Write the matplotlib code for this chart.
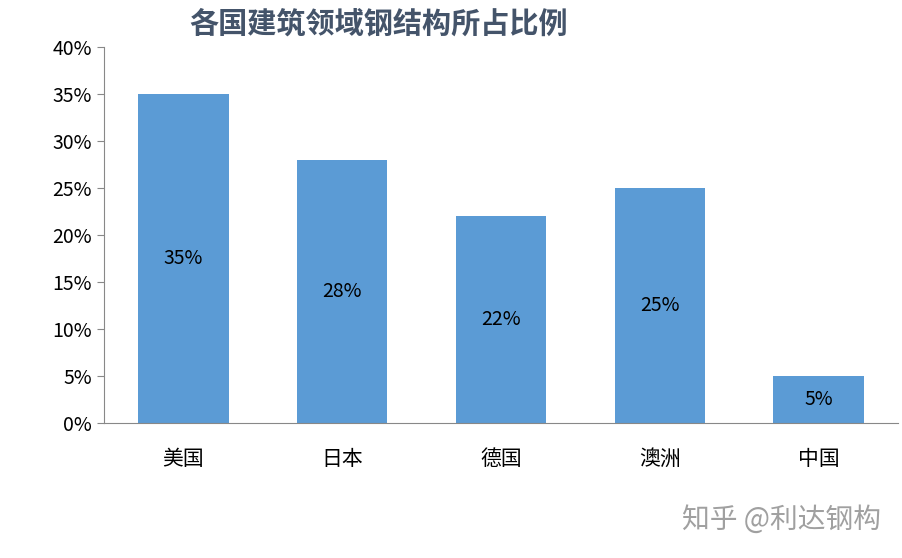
import matplotlib
matplotlib.use("Agg")
import matplotlib.pyplot as plt
from matplotlib.ticker import PercentFormatter

plt.rcParams['font.family'] = ['Noto Sans CJK SC', 'DejaVu Sans']

categories = ['美国', '日本', '德国', '澳洲', '中国']
values = [35, 28, 22, 25, 5]
labels = ['35%', '28%', '22%', '25%', '5%']

fig = plt.figure(figsize=(9.02, 5.58), dpi=100)
ax = fig.add_axes([0.1153, 0.2419, 0.8803, 0.6739])
x = range(len(categories))
bars = ax.bar(x, values, width=0.57, color='#5B9BD5')
for b, v, l in zip(bars, values, labels):
    ax.text(b.get_x() + b.get_width() / 2, v / 2, l, ha='center', va='center',
            fontsize=14, color='black')
ax.set_xlim(-0.5, 4.5)
ax.set_ylim(0, 40)
ax.set_yticks(range(0, 41, 5))
ax.yaxis.set_major_formatter(PercentFormatter(decimals=0))
ax.set_xticks(list(x))
ax.set_xticklabels(categories, fontsize=15)
ax.tick_params(axis='y', labelsize=14, length=5, color='#888888')
ax.tick_params(axis='x', length=0, pad=18)
for s in ['top', 'right']:
    ax.spines[s].set_visible(False)
ax.spines['left'].set_color('#888888')
ax.spines['bottom'].set_color('#888888')
fig.text(0.42, 0.958, '各国建筑领域钢结构所占比例', ha='center', va='center',
         fontsize=21, fontweight='bold', color='#44546A')
fig.text(0.866, 0.068, '知乎 @利达钢构', ha='center', va='center',
         fontsize=20, color='#A0A0A0')
fig.savefig('out.png', dpi=100)
